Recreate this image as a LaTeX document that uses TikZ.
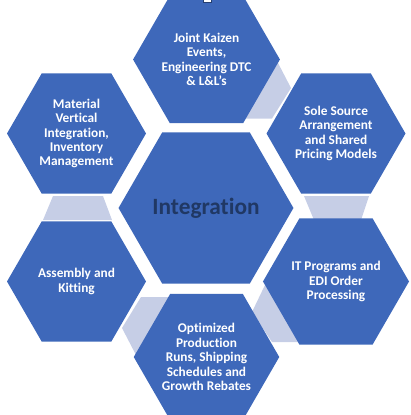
\documentclass[tikz,border=0pt]{standalone}
\usepackage{fontspec}
\setmainfont{Carlito}[Ligatures={NoCommon}]
\usetikzlibrary{shapes.geometric}
\definecolor{hexblue}{RGB}{62,104,186}
\definecolor{linkgray}{RGB}{198,206,230}
\definecolor{navy}{RGB}{32,56,100}

\begin{document}
\begin{tikzpicture}[x=0.75pt,y=-0.75pt,
    hexo/.style={regular polygon, regular polygon sides=6, fill=hexblue, inner sep=0pt,
        minimum size=104.25pt, text=white, align=center,
        font=\bfseries\fontsize{10}{10.8}\selectfont},
    link/.style={fill=linkgray}]
    \useasboundingbox (0,0) rectangle (411,415);
    % links between neighbouring hexagons
    \fill[link] (277,61) -- (291,88) -- (272,118.5) -- (241,118.5) -- cycle;
    \fill[link] (304,196) -- (369,196) -- (361,220) -- (314,220) -- cycle;
    \fill[link] (265,285) -- (252,312) -- (272,342) -- (300,342) -- cycle;
    \fill[link] (141,297) -- (170,297) -- (136,355) -- (122,328) -- cycle;
    \fill[link] (53,196) -- (103,196) -- (112,220) -- (43,220) -- cycle;

    % outer ring
    \node[hexo] (kaizen) at (206.5,59.5) {Joint Kaizen\\Events,\\Engineering DTC\\\& L\&L’s};
    \node[hexo] (source) at (336,133.5) {Sole Source\\Arrangement\\and Shared\\Pricing Models};
    \node[hexo] (edi) at (336,281.5) {IT Programs and\\EDI Order\\Processing};
    \node[hexo] (runs) at (206.5,357) {Optimized\\Production\\Runs, Shipping\\Schedules and\\Growth Rebates};
    \node[hexo] (kitting) at (76.5,281.5) {Assembly and\\Kitting};
    \node[hexo] (material) at (76.5,133.5) {Material\\Vertical\\Integration,\\Inventory\\Management};

    % center
    \node[hexo, minimum size=129pt, text=navy, font=\bfseries\fontsize{17.5}{21}\selectfont] (core) at (206,208) {Integration};

    \draw[hexblue!60!black, fill=white, line width=0.5pt] (203,-1) rectangle (211,2.5);
\end{tikzpicture}
\end{document}
